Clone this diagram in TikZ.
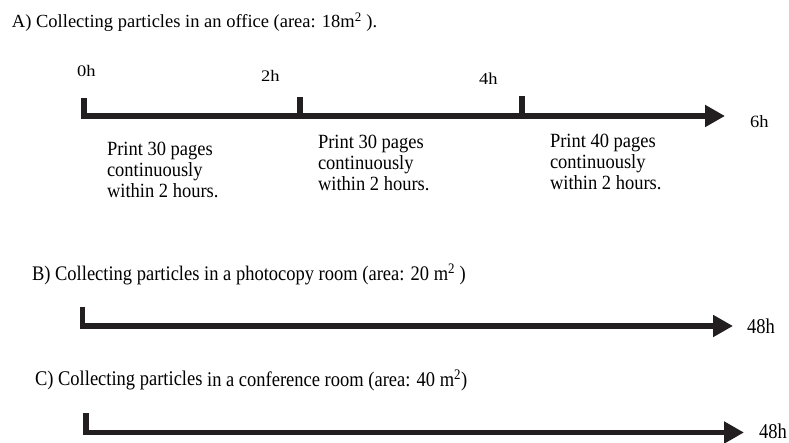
\documentclass[tikz,border=0pt]{standalone}
\usepackage{graphicx}
\usepackage{fontspec}
\setmainfont{Liberation Serif}
\usetikzlibrary{arrows.meta}
\definecolor{ink}{HTML}{231F20}
\newcommand{\vstretch}[2]{\scalebox{1}[#1]{#2}}
\newcommand{\threelines}[3]{\begin{tabular}[b]{@{}l@{}}#1\\#2\\#3\end{tabular}}
\tikzset{
  lbl/.style={anchor=base west, inner sep=0pt, outer sep=0pt, text=black,
    font=\fontsize{18.5}{19.7}\selectfont},
  timeline/.style={draw=ink, line width=5.5pt, line join=miter, line cap=butt,
    -{Triangle[length=20pt,width=21pt]}},
  tickmark/.style={draw=ink, line width=5.5pt, line cap=butt}
}
\begin{document}
\begin{tikzpicture}[x=1pt,y=-1pt]
\useasboundingbox (0,0) rectangle (789,443);
% ---- A ----
\node[lbl] (titleA) at (12,27.5) {A) Collecting particles in an office (area: 18m\textsuperscript{2} ).};
\coordinate (A0top) at (84,98);
\coordinate (A0) at (84,116);
\coordinate (Aend) at (725,116);
\coordinate (A2top) at (300,97);
\coordinate (A2) at (300,116);
\coordinate (A4top) at (522,96);
\coordinate (A4) at (522,116);
\draw[timeline] (A0top) -- (A0) -- (Aend);
\draw[tickmark] (A2top) -- (A2);
\draw[tickmark] (A4top) -- (A4);
\node[lbl] (h0) at (77,77) {\vstretch{0.87}{0h}};
\node[lbl] (h2) at (261,82) {\vstretch{0.87}{2h}};
\node[lbl] (h4) at (479,84.5) {\vstretch{0.9}{4h}};
\node[lbl] (h6) at (750,128) {\vstretch{0.93}{6h}};
\node[lbl] (p1) at (107,198) {\vstretch{1.09}{\threelines{Print 30 pages}{continuously}{within 2 hours.}}};
\node[lbl] (p2) at (318,191) {\vstretch{1.09}{\threelines{Print 30 pages}{continuously}{within 2 hours.}}};
\node[lbl] (p3) at (550,190) {\vstretch{1.09}{\threelines{Print 40 pages}{continuously}{within 2 hours.}}};
% ---- B ----
\node[lbl] (titleB) at (32,281) {\vstretch{1.12}{B) Collecting particles in a photocopy room (area: 20 m\textsuperscript{2} )}};
\coordinate (B0top) at (82.5,307);
\coordinate (B0) at (82.5,326);
\coordinate (Bend) at (733,326);
\draw[timeline] (B0top) -- (B0) -- (Bend);
\node[lbl] (hB) at (747,333) {\vstretch{1.14}{48h}};
% ---- C ----
\node[lbl] (titleC) at (35,385) {\vstretch{1.13}{C) Collecting particles \raisebox{-1.5pt}{in a conference room (area: 40 m\textsuperscript{2})}}};
\coordinate (C0top) at (86,413);
\coordinate (C0) at (86,432.5);
\coordinate (Cend) at (744,432.5);
\draw[timeline] (C0top) -- (C0) -- (Cend);
\node[lbl] (hC) at (759,438) {\vstretch{1.14}{48h}};
\end{tikzpicture}
\end{document}
